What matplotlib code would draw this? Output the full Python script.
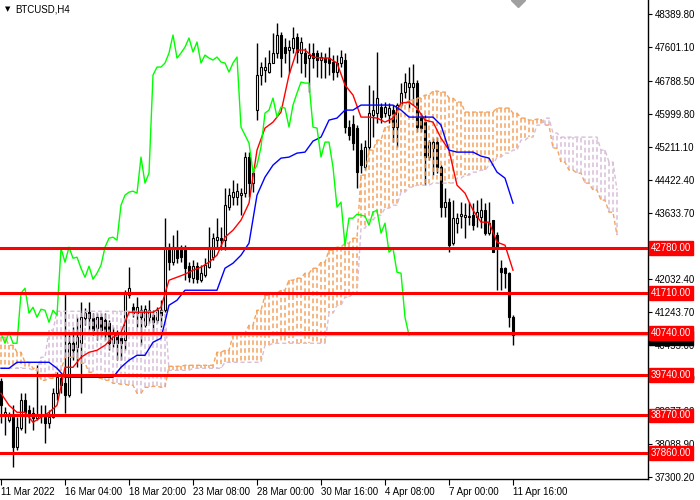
import matplotlib
matplotlib.use("Agg")
import numpy as np
import matplotlib.pyplot as plt
from matplotlib.collections import LineCollection

plt.rcParams['font.family'] = ['Liberation Sans', 'DejaVu Sans']

# H4 candles, bar 0 = 11 Mar 2022
opens = [39589, 38773, 38653, 38773, 38005, 38461, 39133, 38893, 38821, 38701,
         38773, 38773, 38581, 38725, 39301, 39661, 39541, 39253, 40501, 40405,
         40501, 41101, 41245, 41101, 40861, 41125, 41053, 40981, 40501, 40741,
         40621, 40573, 41653, 41365, 41221, 41293, 40933, 41125, 41173, 41053,
         41293, 41293, 42805, 42445, 42781, 42781, 42781, 42349, 42061, 42349,
         42013, 42133, 42325, 42565, 42973, 43021, 42973, 43765, 44005, 44005,
         44053, 44101, 44965, 44341, 46093, 46933, 47053, 47005, 47221, 47461,
         47893, 47605, 47533, 47581, 47845, 47461, 47461, 47341, 47461, 47461,
         47293, 47341, 47341, 47245, 47005, 47221, 47293, 45685, 45757, 45661,
         45133, 44725, 45205, 45973, 46021, 46165, 46021, 45973, 46093, 45685,
         46213, 46525, 46645, 46645, 46741, 45901, 45805, 44965, 45181, 45325,
         44725, 43765, 43885, 42901, 43381, 43549, 43525, 43525, 43573, 43525,
         43525, 43693, 43141, 43453, 43093, 42301, 42301, 42181, 41125]
highs = [39661, 38965, 38845, 39013, 38725, 39301, 39301, 39013, 38965, 39973,
         39013, 39013, 38893, 39421, 39805, 39733, 41725, 40693, 40885, 41125,
         41485, 41341, 41485, 41221, 41221, 41221, 41221, 41053, 40885, 40813,
         40765, 41773, 42325, 41461, 41605, 41413, 41413, 41533, 41293, 41365,
         41533, 43501, 42901, 43093, 43213, 42853, 42853, 42445, 42493, 42445,
         42373, 42541, 43285, 43141, 43501, 43285, 44221, 44221, 44413, 44341,
         44221, 45085, 45085, 44653, 47701, 47245, 47365, 47533, 47941, 48181,
         47965, 47821, 47773, 48085, 47941, 47845, 47581, 47701, 47701, 47533,
         47485, 47461, 47605, 47413, 47413, 47533, 47461, 45853, 45973, 45733,
         45301, 45373, 46693, 46573, 47485, 46261, 46285, 46261, 46213, 46261,
         46741, 46981, 47125, 47197, 46813, 46021, 45973, 45373, 45421, 45445,
         44773, 44221, 43981, 43933, 43621, 43885, 43861, 43885, 43861, 43933,
         43981, 43861, 43885, 43453, 43165, 42493, 42325, 42205, 41173]
lows = [38581, 38293, 38605, 37525, 37933, 38413, 38341, 38581, 38413, 38653,
        38581, 38101, 38461, 38701, 39133, 39301, 38821, 39205, 40093, 39925,
        39301, 40933, 40813, 40693, 40573, 40645, 40573, 40333, 40405, 40093,
        40093, 40333, 41581, 41125, 40885, 40453, 40885, 40981, 40741, 40981,
        40885, 41245, 42253, 42373, 42421, 42445, 42013, 41965, 41941, 41941,
        41965, 42085, 42301, 42493, 42781, 42733, 42733, 43693, 43813, 43813,
        43573, 44005, 44005, 44125, 45853, 46693, 46765, 46981, 47221, 47341,
        46885, 47221, 46981, 47461, 47221, 46981, 46885, 46525, 47101, 46885,
        46861, 46861, 46933, 46813, 46885, 47125, 45541, 45373, 45133, 44221,
        44581, 44653, 45133, 45445, 45781, 45781, 45925, 45781, 45325, 45205,
        46165, 46381, 46141, 46213, 45565, 45565, 44293, 44893, 44533, 44581,
        43525, 43525, 42685, 42853, 43141, 43261, 43021, 43333, 43213, 43285,
        43261, 43093, 43093, 42685, 41773, 41773, 41821, 40885, 40453]
closes = [39013, 38845, 38773, 38005, 38485, 39133, 38845, 38773, 38701, 38773,
          38749, 38581, 38725, 39301, 39685, 39493, 39253, 40501, 40333, 40645,
          41125, 41221, 41101, 40813, 41125, 40813, 40741, 40501, 40765, 40501,
          40501, 41701, 41821, 41221, 41365, 41125, 41317, 41293, 41005, 41293,
          41173, 42781, 42445, 42805, 42541, 42565, 42301, 42085, 42349, 42037,
          42181, 42373, 42805, 43021, 43045, 42973, 43813, 44053, 44125, 44149,
          44101, 44965, 44341, 44581, 46933, 47125, 47125, 47221, 47461, 47893,
          47341, 47461, 47605, 47821, 47485, 47725, 47221, 47413, 47341, 47293,
          47365, 47245, 47221, 47005, 47221, 47365, 45685, 45493, 45301, 44605,
          44773, 45205, 46021, 46093, 46381, 45925, 46165, 46141, 45685, 46213,
          46501, 46765, 46741, 46741, 45685, 45661, 44965, 45325, 45325, 44725,
          43765, 43885, 42853, 43501, 43501, 43597, 43573, 43549, 43333, 43645,
          43693, 43141, 43381, 42685, 42781, 42205, 42181, 41125, 40693]

# Ichimoku lines, read every second bar
tenkan = [39301, 39013, 38845, 38845, 38605, 38725, 38845, 39013, 39925, 39925,
          40165, 40285, 40333, 40453, 40645, 40765, 41245, 41245, 41245, 41245,
          41365, 42013, 42085, 42157, 42253, 42325, 42445, 42613, 43045, 43213,
          43453, 43861, 45133, 45661, 45805, 46045, 46933, 47533, 47533, 47365,
          47341, 47341, 47221, 46693, 46453, 45925, 45925, 45901, 45805, 45901,
          46261, 46285, 46141, 45853, 45805, 45421, 45133, 44293, 44101, 43693,
          43405, 43405, 42925, 42853, 42253]
kijun = [39901, 39901, 40045, 40045, 40045, 40045, 40045, 39901, 39685, 39685,
         39685, 39685, 39685, 39685, 39685, 39925, 40093, 40213, 40213, 40525,
         40621, 41413, 41533, 41773, 41773, 41773, 41773, 41773, 42301, 42421,
         42613, 42901, 44053, 44485, 44773, 44941, 44965, 45061, 45085, 45349,
         45445, 45853, 45901, 46093, 46093, 46213, 46213, 46213, 46213, 46213,
         46093, 45925, 45925, 45925, 45925, 45733, 45133, 45085, 45085, 45085,
         44989, 44941, 44605, 44461, 43861]
span_a = [40645, 40453, 40285, 40045, 39901, 39613, 39661, 39853, 40165, 40165,
          40021, 39805, 39661, 39613, 39541, 39517, 39493, 39301, 39445, 39469,
          39445, 39949, 39949, 39973, 39973, 39973, 39973, 40285, 40333, 40693,
          40741, 40933, 41293, 41653, 41701, 41773, 42013, 42061, 42181, 42301,
          42445, 42733, 42805, 42901, 43021, 44533, 45133, 45373, 45685, 45973,
          46213, 46333, 46381, 46453, 46549, 46525, 46381, 46285, 46045, 46045,
          46045, 46045, 46141, 46141, 46021, 45901, 45853, 45877, 45733, 45181,
          44845, 44653, 44581, 44341, 44173, 43933, 43645, 43093]
span_b = [39901, 39901, 39901, 39901, 39853, 40165, 40813, 41269, 41269, 41269,
          41269, 41269, 41269, 41269, 41269, 41269, 41269, 41269, 41269, 41269,
          41269, 39853, 39853, 39853, 39901, 39901, 39901, 39901, 40045, 40045,
          40045, 40045, 40045, 40453, 40501, 40501, 40501, 40501, 40501, 40501,
          40501, 41221, 41413, 41605, 41701, 43261, 43453, 43573, 43741, 43813,
          44125, 44245, 44293, 44293, 44341, 44341, 44341, 44461, 44533, 44605,
          44653, 44773, 44965, 45061, 45133, 45373, 45445, 45733, 45901, 45541,
          45445, 45445, 45445, 45445, 45445, 45133, 44845, 44173]

levels = [42780, 41710, 40740, 39740, 38770, 37860]
price_ticks = [48389.80, 47601.10, 46788.50, 45999.80, 45211.10, 44422.40,
               43633.70, 42032.40, 41243.70, 40455.00, 39666.30, 38877.60,
               38088.90, 37300.20]
time_labels = ['11 Mar 2022', '16 Mar 04:00', '18 Mar 20:00', '23 Mar 08:00',
               '28 Mar 00:00', '30 Mar 16:00', '4 Apr 08:00', '7 Apr 00:00',
               '11 Apr 16:00']

o = np.array(opens); h = np.array(highs); l = np.array(lows); c = np.array(closes)
n = len(c)
x = np.arange(n)

fig = plt.figure(figsize=(7, 5), dpi=100)
ax = fig.add_axes([0, 21 / 500, 648 / 700, 479 / 500])

# candles
ax.vlines(x, l, h, color='black', lw=1, zorder=2)
up = c >= o
ax.bar(x, np.abs(c - o), bottom=np.minimum(o, c), width=0.62,
       color=np.where(up, 'white', 'black'), edgecolor='black', linewidth=0.8, zorder=2.5)

# kumo, drawn 26 bars ahead
nc = n + 26
xk = np.arange(nc)
a_bar = np.repeat(span_a, 2)[:nc]
b_bar = np.repeat(span_b, 2)[:nc]
orange = (0.957, 0.643, 0.376, 1.0)
thistle = (0.847, 0.749, 0.847, 1.0)
segs = [[(i, a_bar[i]), (i, b_bar[i])] for i in range(nc)]
cols = [orange if a_bar[i] >= b_bar[i] else thistle for i in range(nc)]
kumo = LineCollection(segs, colors=cols, linewidths=1.1, zorder=3)
kumo.set_linestyle((0, (3, 2)))
ax.add_collection(kumo)
ax.plot(xk, a_bar, color=orange, ls=(0, (3, 2)), lw=1.0, zorder=3)
ax.plot(xk, b_bar, color=thistle, ls=(0, (3, 2)), lw=1.0, zorder=3)

xe = np.arange(0, n, 2)
ax.plot(xe, tenkan, color='red', lw=1, zorder=4)
ax.plot(xe, kijun, color='blue', lw=1, zorder=4)
ax.plot(x[:-26], c[26:], color='#00FF00', lw=1, zorder=4)

# bid line
ax.axhline(c[-1], color='#C0C0C0', lw=1, zorder=1)

for lv in levels:
    ax.axhline(lv, color='red', lw=2.2, zorder=5)

ax.set_xlim(-0.25, 161.75)
ax.set_ylim(37246, 48733)

ax.yaxis.tick_right()
ax.set_yticks(price_ticks)
ax.set_yticklabels([f'{v:.2f}' for v in price_ticks])
ax.tick_params(axis='y', labelsize=7, length=3, pad=2, colors='black')
ax.set_xticks(np.arange(0, n, 16))
ax.set_xticklabels(time_labels, ha='left')
ax.tick_params(axis='x', labelsize=7, length=4, pad=2)

for s in ['top', 'left']:
    ax.spines[s].set_visible(False)
for s in ['right', 'bottom']:
    ax.spines[s].set_linewidth(1)

ytr = ax.get_yaxis_transform()
ax.text(1.004, c[-1] - 60, f'{c[-1]:.2f}', transform=ytr, ha='left', va='center', fontsize=7,
        color='white', bbox=dict(boxstyle='square,pad=0.2', fc='black', ec='black'),
        clip_on=False, zorder=9)
for lv in levels:
    ax.text(1.004, lv, f'{lv:.2f}', transform=ytr, ha='left', va='center', fontsize=7,
            color='white', bbox=dict(boxstyle='square,pad=0.2', fc='red', ec='red'),
            clip_on=False, zorder=10)

# chart shift marker
ax.plot([129.2], [48733], marker='D', ms=7, color='#A0A0A0', clip_on=True, zorder=6)

fig.text(5 / 700, 1 - 9 / 500, '\u25bc', fontsize=5, va='center', family=['DejaVu Sans'])
fig.text(15 / 700, 1 - 9 / 500, 'BTCUSD,H4', fontsize=7, va='center')

fig.savefig('out.png', dpi=100)
